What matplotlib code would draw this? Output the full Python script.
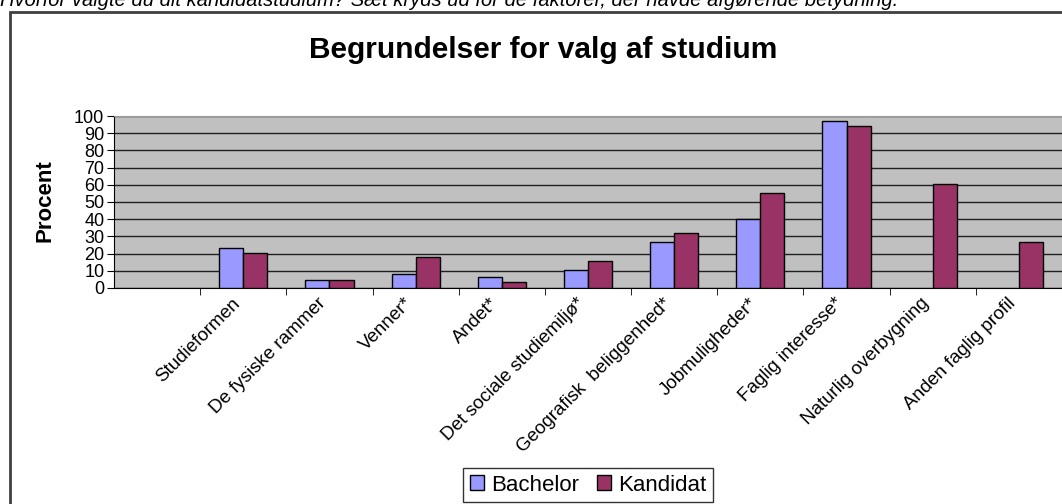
import numpy as np
import matplotlib.pyplot as plt
from matplotlib.patches import Rectangle
from matplotlib.transforms import ScaledTranslation

plt.rcParams['font.family'] = ['Liberation Sans', 'DejaVu Sans']

categories = ['', 'Studieformen', 'De fysiske rammer', 'Venner*', 'Andet*',
              'Det sociale studiemiljø*', 'Geografisk  beliggenhed*', 'Jobmuligheder*',
              'Faglig interesse*', 'Naturlig overbygning', 'Anden faglig profil']
bachelor = [np.nan, 23.3, 4.4, 7.9, 6.3, 10.4, 26.5, 40.0, 97.1, np.nan, np.nan]
kandidat = [np.nan, 20.2, 4.4, 17.9, 3.5, 15.8, 31.9, 55.2, 94.4, 60.6, 26.5]
yticks = list(range(0, 101, 10))

W, H = 1062, 504
fig = plt.figure(figsize=(W / 100, H / 100), dpi=100)

# outer chart frame (clipped by the image on right and bottom)
fig.add_artist(Rectangle((10 / W, -0.1), 1.2, 1.1 - 12 / H, transform=fig.transFigure,
                         fill=False, edgecolor='#404040', linewidth=2))

fig.text(0.0, 1 - 6 / H, 'Hvorfor valgte du dit kandidatstudium? Sæt kryds ud for de faktorer, '
         'der havde afgørende betydning.', style='italic', fontsize=14.5, va='baseline', ha='left')

ax = fig.add_axes([114 / W, 216 / H, 948 / W, 172 / H])
x = np.arange(len(categories))
w = 0.28
ax.bar(x - w / 2, bachelor, w, color='#9999ff', edgecolor='black', linewidth=1,
       label='Bachelor', zorder=3)
ax.bar(x + w / 2, kandidat, w, color='#993366', edgecolor='black', linewidth=1,
       label='Kandidat', zorder=3)

ax.set_xlim(-0.5, len(categories) - 0.5)
ax.set_ylim(0, 100)
ax.set_facecolor('#c0c0c0')
ax.set_axisbelow(True)
ax.yaxis.grid(True, color='#202020', linewidth=1)
ax.set_yticks(yticks)
ax.tick_params(axis='y', length=5, direction='out', labelsize=13, pad=2)

ax.set_xticks(x, categories, rotation=45, ha='right', va='top', rotation_mode='anchor', fontsize=13.5)
ax.set_xticks(np.arange(0.5, len(categories), 1), minor=True)
ax.tick_params(axis='x', which='major', length=0, pad=5)
ax.tick_params(axis='x', which='minor', length=5, direction='out')
shift = ScaledTranslation(-12 / 100, 0, fig.dpi_scale_trans)
for lab in ax.get_xticklabels():
    lab.set_transform(lab.get_transform() + shift)

ax.spines['right'].set_visible(False)
ax.spines['top'].set_color('#999999')
ax.spines['left'].set_color('black')
ax.spines['bottom'].set_color('black')

fig.text(45 / W, 1 - 201 / H, 'Procent', rotation=90, fontsize=16, fontweight='bold',
         ha='center', va='center')
fig.text(543 / W, 1 - 50 / H, 'Begrundelser for valg af studium', fontsize=21.5,
         fontweight='bold', ha='center', va='center')

fig.legend(loc='upper left', bbox_to_anchor=(463 / W, 1 - 468 / H), ncol=2, frameon=True,
           fancybox=False, edgecolor='black', fontsize=16, handlelength=0.65, handleheight=0.65,
           handletextpad=0.3, columnspacing=0.8, borderpad=0.3, borderaxespad=0)

fig.savefig('out.png', dpi=100)
